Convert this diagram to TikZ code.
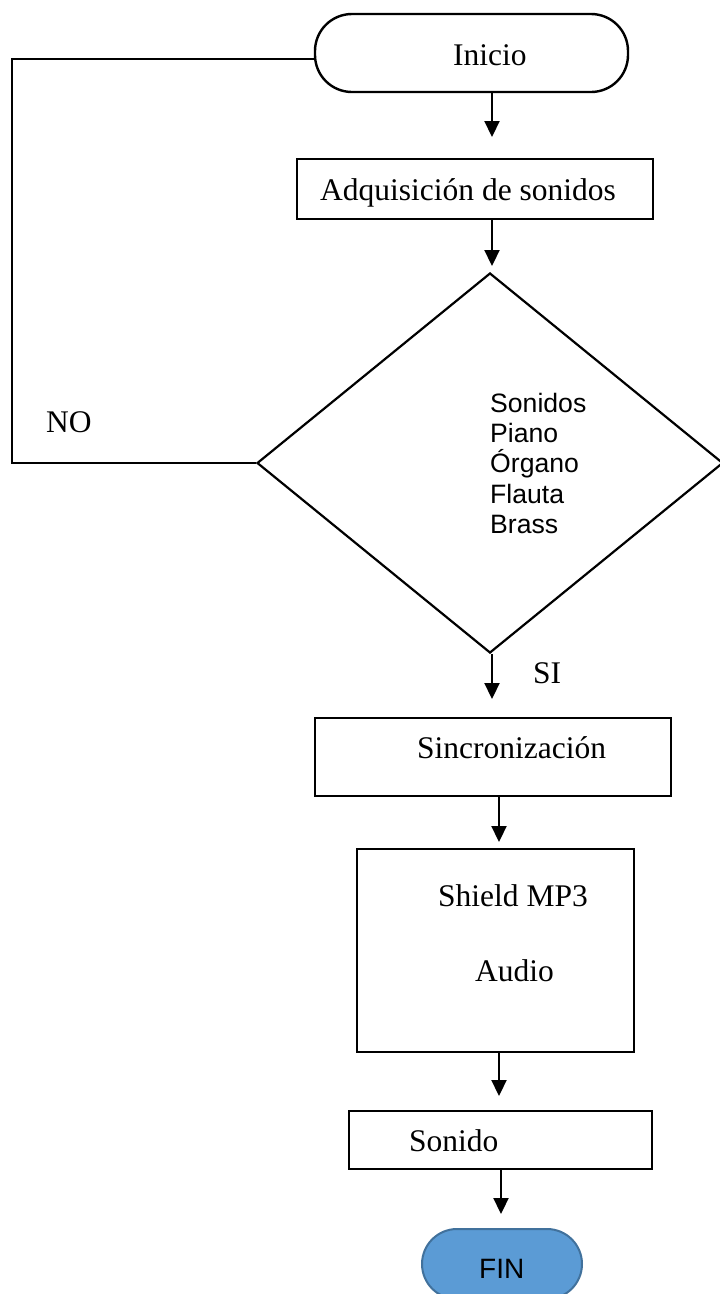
\documentclass[tikz,border=0pt]{standalone}
\usepackage{fontspec}
\setmainfont{Liberation Serif}
\setsansfont{Liberation Sans}
\usetikzlibrary{arrows.meta,shapes.geometric,calc}
\definecolor{finfill}{HTML}{5B9BD5}
\definecolor{finedge}{HTML}{41719C}
\begin{document}
\begin{tikzpicture}[x=1pt,y=-1pt,
  box/.style={draw, line width=2.6pt, inner sep=0pt, fill=white},
  term/.style={draw, line width=2.4pt, inner sep=0pt},
  conn/.style={line width=2.2pt, -{Triangle[length=16pt,width=15pt]}},
  loopline/.style={line width=1.4pt},
  serif/.style={inner sep=0pt, font=\fontsize{31.5}{36}\selectfont},
  sans/.style={inner sep=0pt, font=\sffamily\fontsize{26.6}{30.2}\selectfont}]
\useasboundingbox (0,0) rectangle (720,1294);
\clip (0,0) rectangle (720,1294);

% shapes
\node[term, rounded corners=37pt, minimum width=313pt, minimum height=78pt] (inicio) at (471.5,53) {};
\node[box, minimum width=356pt, minimum height=60pt] (adq) at (475,189) {};
\node[draw, diamond, line width=2.2pt, inner sep=0pt, minimum width=466pt, minimum height=380pt] (diam) at (490,463) {};
\node[box, minimum width=356pt, minimum height=78pt] (sinc) at (493,757) {};
\node[box, minimum width=277pt, minimum height=203pt] (shield) at (495.5,950.5) {};
\node[box, minimum width=303pt, minimum height=58pt] (sonido) at (500.5,1140) {};
\node[draw=finedge, fill=finfill, line width=2pt, rounded corners=35pt, inner sep=0pt, minimum width=160pt, minimum height=70pt] (fin) at (502,1264) {};

% texts
\node[serif, anchor=base west] (tinicio) at (453,65) {Inicio};
\node[serif, anchor=base west] (tadq) at (320,200) {Adquisición de sonidos};
\node[sans, anchor=north west, align=left] (tdiam) at (490,393) {Sonidos\\Piano\\Órgano\\Flauta\\Brass};
\node[serif, anchor=base west] (tno) at (46,432) {NO};
\node[serif, anchor=base west] (tsi) at (533,683) {SI};
\node[serif, anchor=base west] (tsinc) at (417,758) {Sincronización};
\node[serif, anchor=base west] (tshield) at (438,906) {Shield MP3};
\node[serif, anchor=base west] (taudio) at (475,981) {Audio};
\node[serif, anchor=base west] (tsonido) at (409,1151) {Sonido};
\node[anchor=base west, inner sep=0pt, font=\sffamily\fontsize{28}{32}\selectfont] (tfin) at (479,1278) {FIN};

% connectors
\coordinate (a1) at (492,137);
\coordinate (a2) at (492,266);
\coordinate (a3) at (492,699);
\coordinate (a4) at (499,842);
\coordinate (a5) at (499,1096);
\coordinate (a6) at (501,1214);
\draw[conn] (inicio.south -| a1) -- (a1);
\draw[conn] (adq.south -| a2) -- (a2);
\draw[conn] (diam.south -| a3) -- (a3);
\draw[conn] (sinc.south -| a4) -- (a4);
\draw[conn] (shield.south -| a5) -- (a5);
\draw[conn] (sonido.south -| a6) -- (a6);

% NO loop
\coordinate (lt) at (12,59);
\draw[loopline] (diam.west) -| (lt) -- (lt -| inicio.west);
\end{tikzpicture}
\end{document}
